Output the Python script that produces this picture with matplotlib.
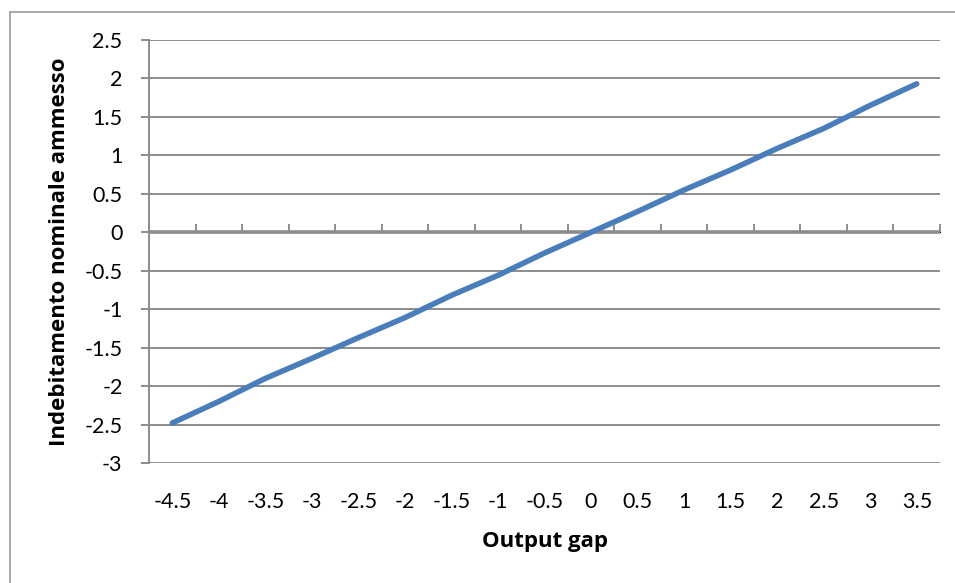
import matplotlib

matplotlib.use("Agg")
import matplotlib.pyplot as plt
from matplotlib.patches import Rectangle

# data
output_gap = ["-4.5", "-4", "-3.5", "-3", "-2.5", "-2", "-1.5", "-1", "-0.5",
              "0", "0.5", "1", "1.5", "2", "2.5", "3", "3.5"]
indebitamento = [-2.48, -2.2, -1.9, -1.64, -1.37, -1.11, -0.82, -0.56, -0.27,
                 0.0, 0.27, 0.55, 0.81, 1.09, 1.35, 1.65, 1.93]
y_ticks = [-3, -2.5, -2, -1.5, -1, -0.5, 0, 0.5, 1, 1.5, 2, 2.5]

plt.rcParams["font.family"] = ["Lato", "DejaVu Sans"]
GRID = "#8c8c8c"
LINE = "#4a7ebb"
LABEL_FONT = ["Open Sans", "DejaVu Sans"]

fig = plt.figure(figsize=(9.55, 5.83), dpi=100)
ax = fig.add_axes([149 / 955, 1 - 463 / 583, (940 - 149) / 955, (463 - 40) / 583])

# chart border (only top and left edges show in the crop)
fig.patches.append(Rectangle((10 / 955, -0.1), 1.2, 1 - 12 / 583 + 0.1,
                             transform=fig.transFigure, fill=False,
                             edgecolor="#9a9a9a", linewidth=1.2))

xs = list(range(len(output_gap)))
ax.plot(xs, indebitamento, color=LINE, linewidth=4,
        solid_capstyle="round", solid_joinstyle="round", zorder=3)

ymin, ymax = -3, 2.5
ax.set_ylim(ymin, ymax)
ax.set_xlim(-0.5, len(output_gap) - 0.5)
ax.set_yticks(y_ticks)
ax.set_yticklabels([f"{v:g}" for v in y_ticks])
ax.yaxis.grid(True, color=GRID, linewidth=1.4)
ax.set_axisbelow(True)

# zero line acting as category axis
ax.axhline(0, color=GRID, linewidth=2.6, zorder=2)

for s in ["top", "right", "bottom"]:
    ax.spines[s].set_visible(False)
ax.spines["left"].set_color(GRID)
ax.spines["left"].set_linewidth(1.4)
ax.tick_params(axis="y", length=6, width=1.4, color=GRID, pad=13,
               labelsize=15.5)

# category labels at the bottom of plot area
ax.set_xticks(xs)
ax.set_xticklabels(output_gap)
ax.tick_params(axis="x", length=0, pad=21, labelsize=15.5)

# tick marks between categories on the zero line
zero_loc = (0 - ymin) / (ymax - ymin)
sec = ax.secondary_xaxis(zero_loc)
sec.set_xticks([i - 0.5 for i in range(len(output_gap) + 1)])
sec.set_xticklabels([])
sec.spines["bottom"].set_visible(False)
sec.tick_params(axis="x", direction="out", length=6, width=1.4, color=GRID)

ax.set_xlabel("Output gap", fontsize=16, fontweight="bold", family=LABEL_FONT)
ax.set_ylabel("Indebitamento nominale ammesso", fontsize=16,
              fontweight="bold", family=LABEL_FONT)
ax.xaxis.set_label_coords(0.5, (463 - 531) / 423)
ax.yaxis.set_label_coords((70 - 149) / 791, 0.5)

fig.savefig("out.png", dpi=100)
